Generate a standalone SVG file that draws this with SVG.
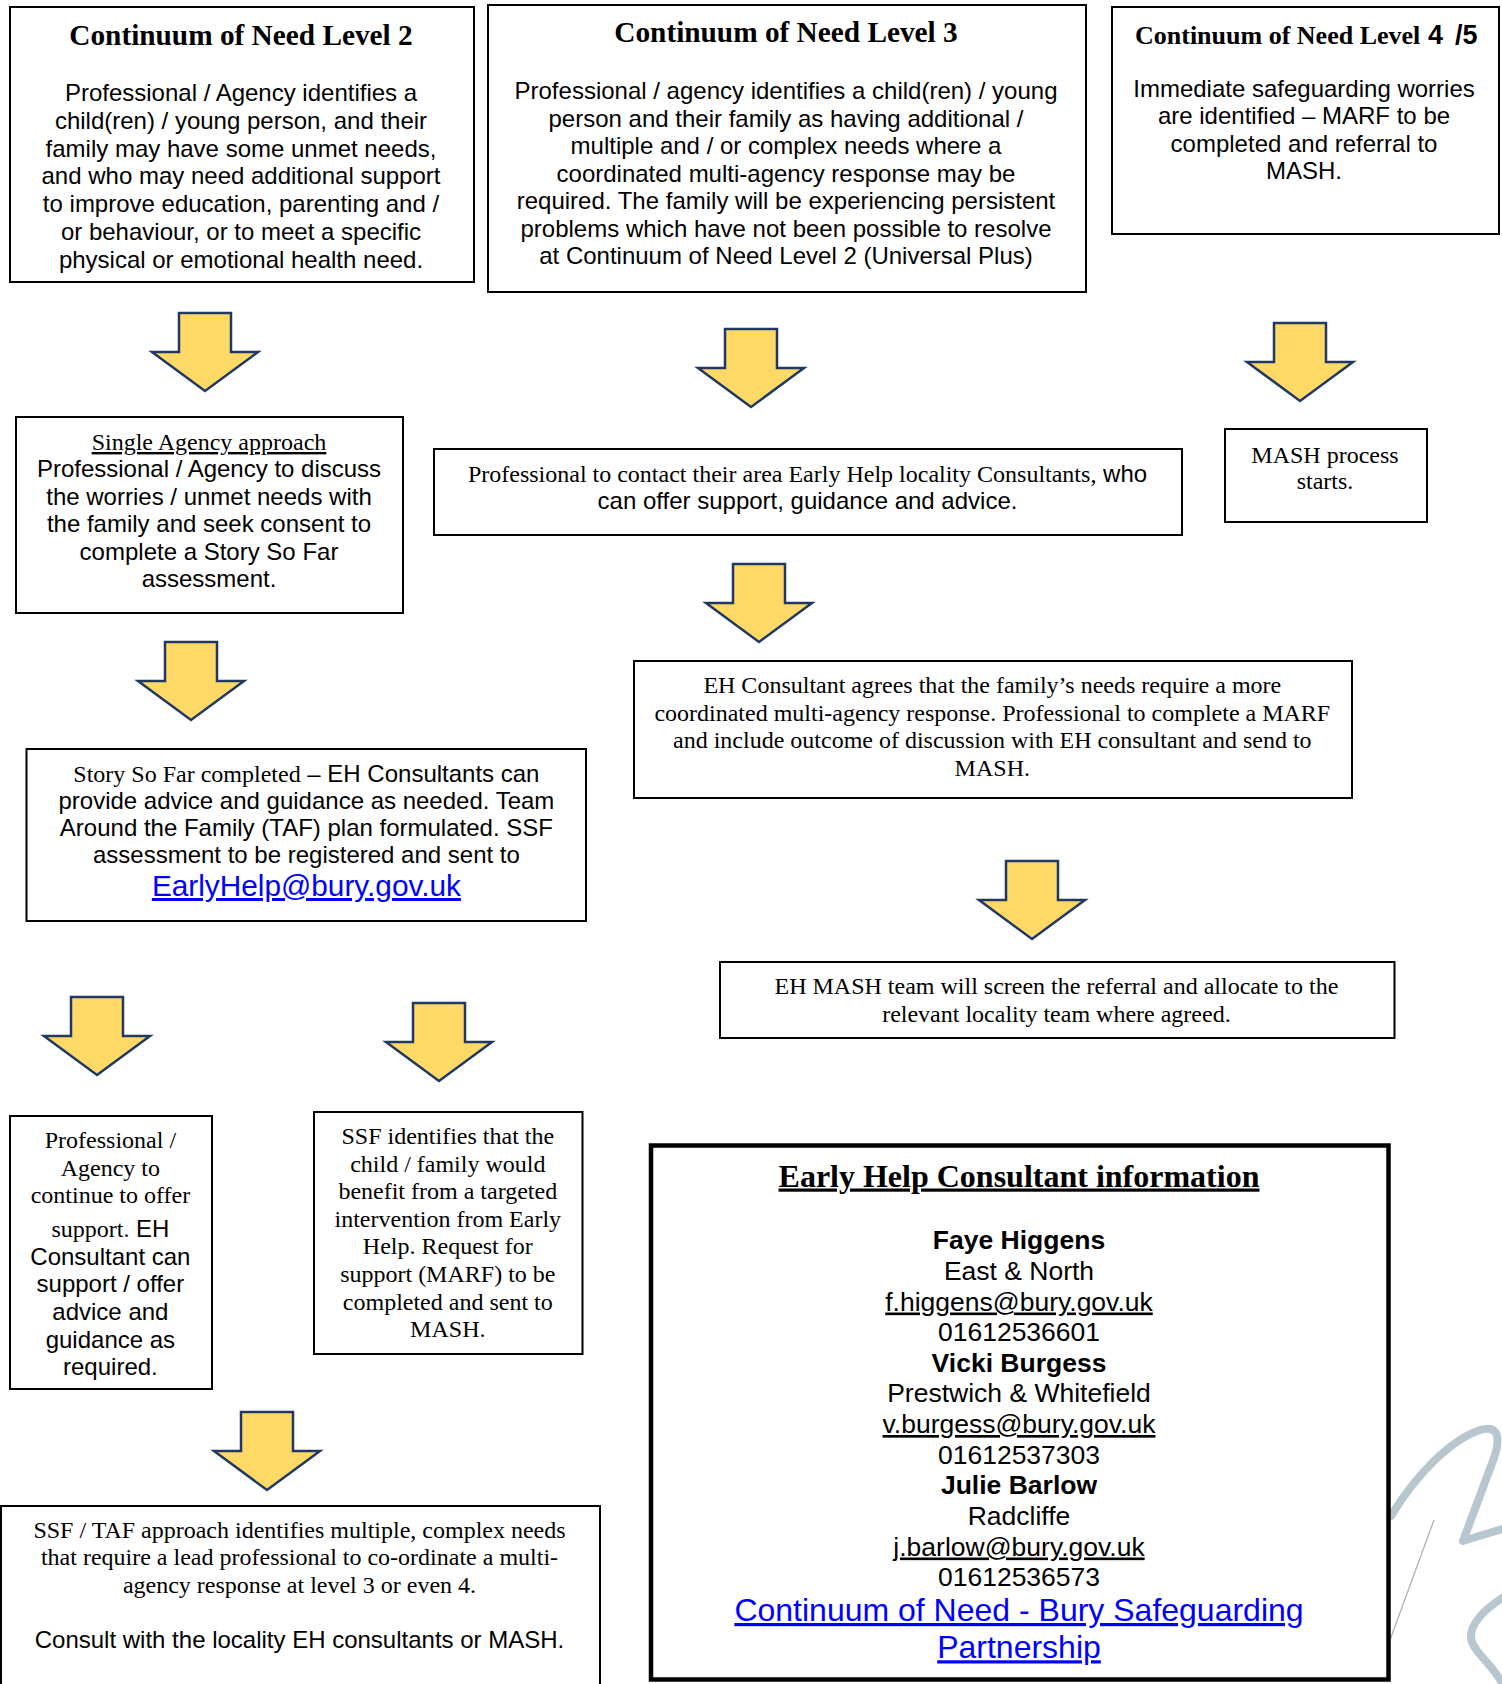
<svg xmlns="http://www.w3.org/2000/svg" width="1502" height="1684" viewBox="0 0 1502 1684">
<style>
.bx{fill:#fff;stroke:#000;stroke-width:2}
.bxk{fill:#fff;stroke:#000;stroke-width:4.5}
.c{text-anchor:middle}
.s{font-family:"Liberation Serif","Times New Roman",serif;font-size:24px;fill:#000}
.a{font-family:"Liberation Sans",Arial,sans-serif;font-size:24px;fill:#000}
.h{font-family:"Liberation Serif","Times New Roman",serif;font-size:29.3px;font-weight:bold;fill:#000}
.i{font-family:"Liberation Sans",Arial,sans-serif;font-size:26.5px;fill:#000}
.lnk{fill:#0000ff;text-decoration:underline}
.u{text-decoration:underline}
.b{font-weight:bold}
.arr{fill:#ffd966;stroke:#203864;stroke-width:2.5;stroke-linejoin:miter}
.sw{fill:none;stroke:#b8c6cf;stroke-linecap:round;stroke-linejoin:round}
</style>
<defs>
<path id="arrow" d="M -26 0 H 26 V 39 H 53 L 0 78 L -53 39 H -26 Z"/>
</defs>
<rect x="0" y="0" width="1502" height="1684" fill="#fff"/>

<g id="decoration">
<path class="sw" stroke-width="8" d="M 1391 1516 C 1415 1476, 1450 1440, 1480 1430 C 1500 1424, 1500 1440, 1494 1458 L 1463 1541 L 1502 1529"/>
<path class="sw" stroke-width="8" d="M 1502 1598 C 1484 1610, 1470 1624, 1471 1638 C 1473 1652, 1492 1664, 1502 1683"/>
<path fill="none" stroke="#a9b3b9" stroke-width="1.3" d="M 1434 1520 L 1390 1640"/>
</g>

<g id="connectors">
<use href="#arrow" class="arr" x="205" y="313"/>
<use href="#arrow" class="arr" x="751" y="329"/>
<use href="#arrow" class="arr" x="1300" y="323"/>
<use href="#arrow" class="arr" x="759" y="564"/>
<use href="#arrow" class="arr" x="191" y="642"/>
<use href="#arrow" class="arr" x="1032" y="861"/>
<use href="#arrow" class="arr" x="97" y="997"/>
<use href="#arrow" class="arr" x="439" y="1003"/>
<use href="#arrow" class="arr" x="267" y="1412"/>
</g>

<g id="level2">
<rect class="bx" x="10" y="7" width="464" height="275"/>
<text class="h c" x="241" y="45">Continuum of Need Level 2</text>
<text class="a c" x="241" y="101">Professional / Agency identifies a</text>
<text class="a c" x="241" y="128.8">child(ren) / young person, and their</text>
<text class="a c" x="241" y="156.6">family may have some unmet needs,</text>
<text class="a c" x="241" y="184.4">and who may need additional support</text>
<text class="a c" x="241" y="212.2">to improve education, parenting and /</text>
<text class="a c" x="241" y="240">or behaviour, or to meet a specific</text>
<text class="a c" x="241" y="267.8">physical or emotional health need.</text>
</g>

<g id="level3">
<rect class="bx" x="488" y="5" width="598" height="287"/>
<text class="h c" x="786" y="42">Continuum of Need Level 3</text>
<text class="a c" x="786" y="99">Professional / agency identifies a child(ren) / young</text>
<text class="a c" x="786" y="126.5">person and their family as having additional /</text>
<text class="a c" x="786" y="154">multiple and / or complex needs where a</text>
<text class="a c" x="786" y="181.5">coordinated multi-agency response may be</text>
<text class="a c" x="786" y="209">required. The family will be experiencing persistent</text>
<text class="a c" x="786" y="236.5">problems which have not been possible to resolve</text>
<text class="a c" x="786" y="264">at Continuum of Need Level 2 (Universal Plus)</text>
</g>

<g id="level45">
<rect class="bx" x="1112" y="7" width="387" height="227"/>
<text class="h" x="1135" y="43.5" style="font-size:26px">Continuum of Need Level<tspan x="1428" style="font-family:'Liberation Sans',Arial,sans-serif;font-size:27px">4</tspan><tspan x="1455" style="font-family:'Liberation Sans',Arial,sans-serif;font-size:27px">/5</tspan></text>
<text class="a c" x="1304" y="96.7">Immediate safeguarding worries</text>
<text class="a c" x="1304" y="124.2">are identified – MARF to be</text>
<text class="a c" x="1304" y="151.7">completed and referral to</text>
<text class="a c" x="1304" y="179.2">MASH.</text>
</g>

<g id="single-agency">
<rect class="bx" x="16" y="417" width="387" height="196"/>
<text class="s c u" x="209" y="450">Single Agency approach</text>
<text class="a c" x="209" y="477.3">Professional / Agency to discuss</text>
<text class="a c" x="209" y="504.8">the worries / unmet needs with</text>
<text class="a c" x="209" y="532.3">the family and seek consent to</text>
<text class="a c" x="209" y="559.8">complete a Story So Far</text>
<text class="a c" x="209" y="587.3">assessment.</text>
</g>

<g id="contact-consultants">
<rect class="bx" x="434" y="449" width="748" height="86"/>
<text class="s c" x="807.5" y="481.7">Professional to contact their area Early Help locality Consultants,<tspan class="a"> who</tspan></text>
<text class="a c" x="807.5" y="509">can offer support, guidance and advice.</text>
</g>

<g id="mash-process">
<rect class="bx" x="1225" y="429" width="202" height="93"/>
<text class="s c" x="1325" y="463.3">MASH process</text>
<text class="s c" x="1325" y="489.3">starts.</text>
</g>

<g id="ssf-completed">
<rect class="bx" x="26.5" y="749" width="559.5" height="172"/>
<text class="s c" x="306.4" y="781.7">Story So Far completed<tspan class="a"> – EH Consultants can</tspan></text>
<text class="a c" x="306.4" y="808.7">provide advice and guidance as needed. Team</text>
<text class="a c" x="306.4" y="835.7">Around the Family (TAF) plan formulated. SSF</text>
<text class="a c" x="306.4" y="862.7">assessment to be registered and sent to</text>
<text class="a c lnk" x="306.4" y="896" style="font-size:29.8px">EarlyHelp@bury.gov.uk</text>
</g>

<g id="eh-consultant-agrees">
<rect class="bx" x="634" y="661" width="718" height="137"/>
<text class="s c" x="992.3" y="693.3">EH Consultant agrees that the family’s needs require a more</text>
<text class="s c" x="992.3" y="720.8">coordinated multi-agency response. Professional to complete a MARF</text>
<text class="s c" x="992.3" y="748.3">and include outcome of discussion with EH consultant and send to</text>
<text class="s c" x="992.3" y="775.8">MASH.</text>
</g>

<g id="eh-mash-team">
<rect class="bx" x="720" y="962" width="674.5" height="76"/>
<text class="s c" x="1056.4" y="994">EH MASH team will screen the referral and allocate to the</text>
<text class="s c" x="1056.4" y="1021.7">relevant locality team where agreed.</text>
</g>

<g id="continue-support">
<rect class="bx" x="10" y="1116" width="202" height="273"/>
<text class="s c" x="110.4" y="1148.3">Professional /</text>
<text class="s c" x="110.4" y="1176.3">Agency to</text>
<text class="s c" x="110.4" y="1203.3">continue to offer</text>
<text class="s c" x="110.4" y="1236.7">support.<tspan class="a"> EH</tspan></text>
<text class="a c" x="110.4" y="1264.7">Consultant can</text>
<text class="a c" x="110.4" y="1292.3">support / offer</text>
<text class="a c" x="110.4" y="1320">advice and</text>
<text class="a c" x="110.4" y="1347.7">guidance as</text>
<text class="a c" x="110.4" y="1375.3">required.</text>
</g>

<g id="ssf-identifies">
<rect class="bx" x="314" y="1112" width="268.5" height="242"/>
<text class="s c" x="447.8" y="1144">SSF identifies that the</text>
<text class="s c" x="447.8" y="1171.6">child / family would</text>
<text class="s c" x="447.8" y="1199.2">benefit from a targeted</text>
<text class="s c" x="447.8" y="1226.8">intervention from Early</text>
<text class="s c" x="447.8" y="1254.4">Help. Request for</text>
<text class="s c" x="447.8" y="1282">support (MARF) to be</text>
<text class="s c" x="447.8" y="1309.6">completed and sent to</text>
<text class="s c" x="447.8" y="1337.2">MASH.</text>
</g>

<g id="ssf-taf">
<rect class="bx" x="1" y="1506" width="599" height="200"/>
<text class="s c" x="299.5" y="1537.7">SSF / TAF approach identifies multiple, complex needs</text>
<text class="s c" x="299.5" y="1565.2">that require a lead professional to co-ordinate a multi-</text>
<text class="s c" x="299.5" y="1592.7">agency response at level 3 or even 4.</text>
<text class="a c" x="299.5" y="1648.3">Consult with the locality EH consultants or MASH.</text>
</g>

<g id="consultant-info">
<rect class="bxk" x="651" y="1145.5" width="737.5" height="534"/>
<text class="s c b u" x="1019" y="1186.5" style="font-size:32px">Early Help Consultant information</text>
<text class="i c b" x="1019" y="1249.4">Faye Higgens</text>
<text class="i c" x="1019" y="1280.2">East &amp; North</text>
<text class="i c u" x="1019" y="1310.5">f.higgens@bury.gov.uk</text>
<text class="i c" x="1019" y="1341">01612536601</text>
<text class="i c b" x="1019" y="1371.8">Vicki Burgess</text>
<text class="i c" x="1019" y="1402.3">Prestwich &amp; Whitefield</text>
<text class="i c u" x="1019" y="1433">v.burgess@bury.gov.uk</text>
<text class="i c" x="1019" y="1463.8">01612537303</text>
<text class="i c b" x="1019" y="1494.3">Julie Barlow</text>
<text class="i c" x="1019" y="1524.8">Radcliffe</text>
<text class="i c u" x="1019" y="1555.5">j.barlow@bury.gov.uk</text>
<text class="i c" x="1019" y="1586">01612536573</text>
<text class="i c lnk" x="1019" y="1621" style="font-size:32px">Continuum of Need - Bury Safeguarding</text>
<text class="i c lnk" x="1019" y="1658.3" style="font-size:32px">Partnership</text>
</g>
</svg>
